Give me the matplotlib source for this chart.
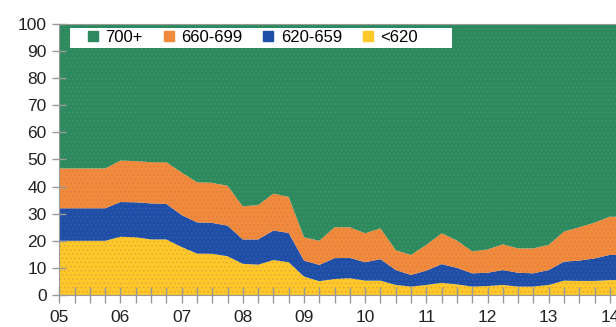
import matplotlib
matplotlib.use("Agg")
import matplotlib.pyplot as plt
from matplotlib.lines import Line2D
from matplotlib.patches import Rectangle

plt.rcParams['font.family'] = ['Liberation Sans', 'DejaVu Sans']
plt.rcParams['hatch.linewidth'] = 0.4

# quarterly data, 2005Q1 .. 2014Q1
quarters = [5 + 0.25 * i for i in range(37)]
lt620 = [20, 20, 20, 20, 21.5, 21.3, 20.5, 20.5, 17.7, 15.3, 15.2, 14.3, 11.5, 11.2, 12.9, 12.1,
         6.8, 5.1, 5.9, 6.2, 5.3, 5.3, 3.7, 3.1, 3.7, 4.5, 3.9, 3.1, 3.3, 3.7, 3.1, 3.1, 3.7,
         5.3, 5.2, 5.2, 5.5]
s620_659 = [12, 12, 12, 12, 12.8, 12.9, 13.3, 13.1, 11.8, 11.5, 11.4, 11.3, 9.0, 9.3, 10.9, 10.8,
            5.9, 6.0, 7.7, 7.5, 6.8, 7.9, 5.5, 4.3, 5.3, 6.9, 6.1, 4.9, 4.9, 5.5, 5.1, 4.9, 5.5,
            7.0, 7.5, 8.3, 9.3]
s660_699 = [14.7, 14.7, 14.7, 14.7, 15.3, 15.2, 15.2, 15.4, 15.7, 14.8, 14.8, 14.7, 12.2, 12.7, 13.6, 13.3,
            8.6, 8.9, 11.4, 11.3, 10.7, 11.4, 7.3, 7.4, 9.5, 11.4, 10.1, 8.1, 8.6, 9.5, 9.0, 9.2, 9.3,
            11.1, 12.3, 13.2, 14.1]
s700p = [53.3, 53.3, 53.3, 53.3, 50.4, 50.6, 51.0, 51.0, 54.8, 58.4, 58.6, 59.7, 67.3, 66.8, 62.6, 63.8,
         78.7, 80.0, 75.0, 75.0, 77.2, 75.4, 83.5, 85.2, 81.5, 77.2, 79.9, 83.9, 83.2, 81.3, 82.8, 82.8, 81.5,
         76.6, 75.0, 73.3, 71.1]
year_ticks = list(range(5, 15))
year_labels = ['05', '06', '07', '08', '09', '10', '11', '12', '13', '14']
y_ticks = list(range(0, 101, 10))
series_names = ['700+', '660-699', '620-659', '<620']

c_green = '#2e8a5e'
c_orange = '#f08a3c'
c_blue = '#1f4ea6'
c_yellow = '#fcc82a'

fig = plt.figure(figsize=(6.16, 3.27), dpi=100)
ax = fig.add_axes([0.0963, 0.0979, 0.9037, 0.8287])

# extend last quarter slightly beyond the visible edge
x = quarters + [quarters[-1] + 0.25]
def ext(a):
    return list(a) + [a[-1]]

polys = ax.stackplot(x, ext(lt620), ext(s620_659), ext(s660_699), ext(s700p),
                     colors=[c_yellow, c_blue, c_orange, c_green], linewidth=0)
hatch_cols = ['#e8963a', '#3a5fb0', '#e07840', '#3f9a6a']
for p, hc in zip(polys, hatch_cols):
    p.set_hatch('....')
    p.set_edgecolor(hc)
    p.set_linewidth(0)

ax.set_xlim(5, 14.1)
ax.set_ylim(0, 100)
ax.set_yticks(y_ticks)
ax.set_yticklabels([str(v) for v in y_ticks], fontsize=12.5, color='#222222')
ax.set_xticks(year_ticks)
ax.set_xticklabels(year_labels, fontsize=12.5, color='#222222')
ax.set_xticks(quarters, minor=True)
ax.tick_params(axis='x', which='both', direction='inout', length=11, width=1, color='#999999', pad=5)
ax.tick_params(axis='y', direction='inout', length=10, width=1, color='#999999', pad=4)
for s in ['left', 'bottom', 'top']:
    ax.spines[s].set_color('#999999')
ax.spines['right'].set_visible(False)

# legend background box
ax.add_patch(Rectangle((0.0192, 0.912), 0.686, 0.074, transform=ax.transAxes,
                       facecolor='white', edgecolor='none', zorder=4))
handles = [Line2D([], [], marker='s', linestyle='none', markersize=6.5, color=c)
           for c in [c_green, c_orange, c_blue, c_yellow]]
leg = ax.legend(handles, series_names, loc='center left', bbox_to_anchor=(0.0485, 0.949),
                ncol=4, frameon=False, fontsize=12, handlelength=0.8,
                handletextpad=0.35, columnspacing=1.15, borderpad=0, borderaxespad=0)
leg.set_zorder(5)

fig.savefig('out.png', dpi=100)
